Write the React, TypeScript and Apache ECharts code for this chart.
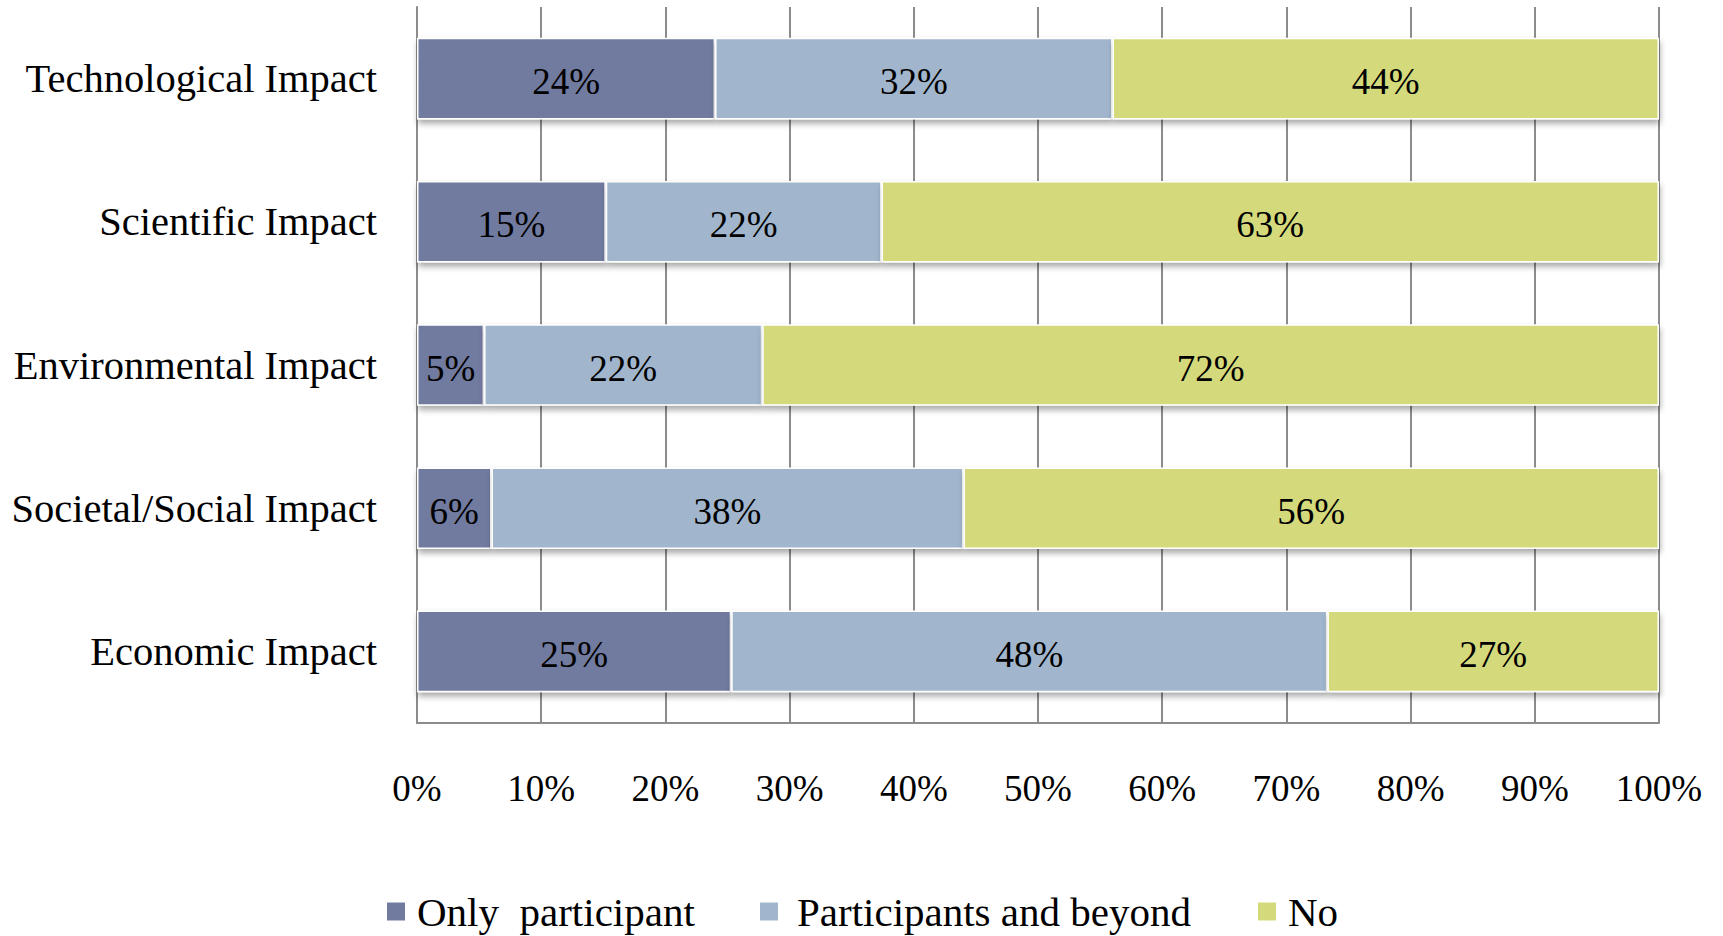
import React, { useEffect, useRef } from "react";
import * as echarts from "echarts";

const categories = [
  "Technological Impact",
  "Scientific Impact",
  "Environmental Impact",
  "Societal/Social Impact",
  "Economic Impact",
];
const seriesNames = ["Only  participant", "Participants and beyond", "No"];
const onlyParticipant = [24, 15.2, 5.4, 6, 25.3];
const participantsBeyond = [32, 22.2, 22.4, 38, 48];
const noImpact = [44, 62.6, 72.2, 56, 26.7];
const xTicks = [0, 10, 20, 30, 40, 50, 60, 70, 80, 90, 100];
const colors = ["#717A9F", "#A1B6CD", "#D4DA7C"];

const FONT = "Liberation Serif";

export default function App() {
  const ref = useRef<HTMLDivElement>(null);
  useEffect(() => {
    if (!ref.current) return;
    const chart = echarts.init(ref.current, undefined, { renderer: "svg" });
    const values = [onlyParticipant, participantsBeyond, noImpact];
    const legendPos = [
      { left: 385, pad: 6 },
      { left: 758, pad: 13 },
      { left: 1256, pad: 6 },
    ];
    chart.setOption({
      animation: false,
      backgroundColor: "#ffffff",
      grid: { left: 417, right: 64, top: 7, bottom: 213, containLabel: false },
      xAxis: {
        type: "value",
        min: xTicks[0],
        max: xTicks[xTicks.length - 1],
        interval: 10,
        axisLine: { show: true, lineStyle: { color: "#8c8c8c", width: 2 } },
        axisTick: { show: false },
        splitLine: { show: true, lineStyle: { color: "#8c8c8c", width: 2 } },
        axisLabel: {
          formatter: (v: number) => v + "%",
          fontFamily: FONT,
          fontSize: 37,
          color: "#000",
          margin: 47,
        },
      },
      yAxis: {
        type: "category",
        data: categories,
        inverse: true,
        axisLine: { show: true, lineStyle: { color: "#8c8c8c", width: 2 } },
        axisTick: { show: false },
        axisLabel: {
          fontFamily: FONT,
          fontSize: 40.5,
          color: "#000",
          margin: 40,
        },
      },
      legend: seriesNames.map((n, i) => ({
        data: [n],
        left: legendPos[i].left,
        top: 891,
        padding: 0,
        itemWidth: 20,
        itemHeight: 20,
        icon: "rect",
        selectedMode: false,
        textStyle: {
          fontFamily: FONT,
          fontSize: 41,
          color: "#000",
          padding: [0, 0, 0, legendPos[i].pad],
        },
      })),
      series: seriesNames.map((n, i) => ({
        name: n,
        type: "bar",
        stack: "total",
        barWidth: "57%",
        data: values[i],
        itemStyle: {
          color: colors[i],
          borderColor: "#ffffff",
          borderWidth: 1.5,
          shadowColor: "rgba(0,0,0,0.35)",
          shadowBlur: 6,
          shadowOffsetY: 4,
          shadowOffsetX: 1,
        },
        label: {
          show: true,
          position: "inside",
          offset: [0, 3],
          formatter: (p: any) => Math.round(p.value) + "%",
          fontFamily: FONT,
          fontSize: 37,
          color: "#000",
        },
      })),
    });
    return () => chart.dispose();
  }, []);
  return (
    <div
      ref={ref}
      style={{ position: "fixed", left: 0, top: 0, width: 1723, height: 936, background: "#fff" }}
    />
  );
}
